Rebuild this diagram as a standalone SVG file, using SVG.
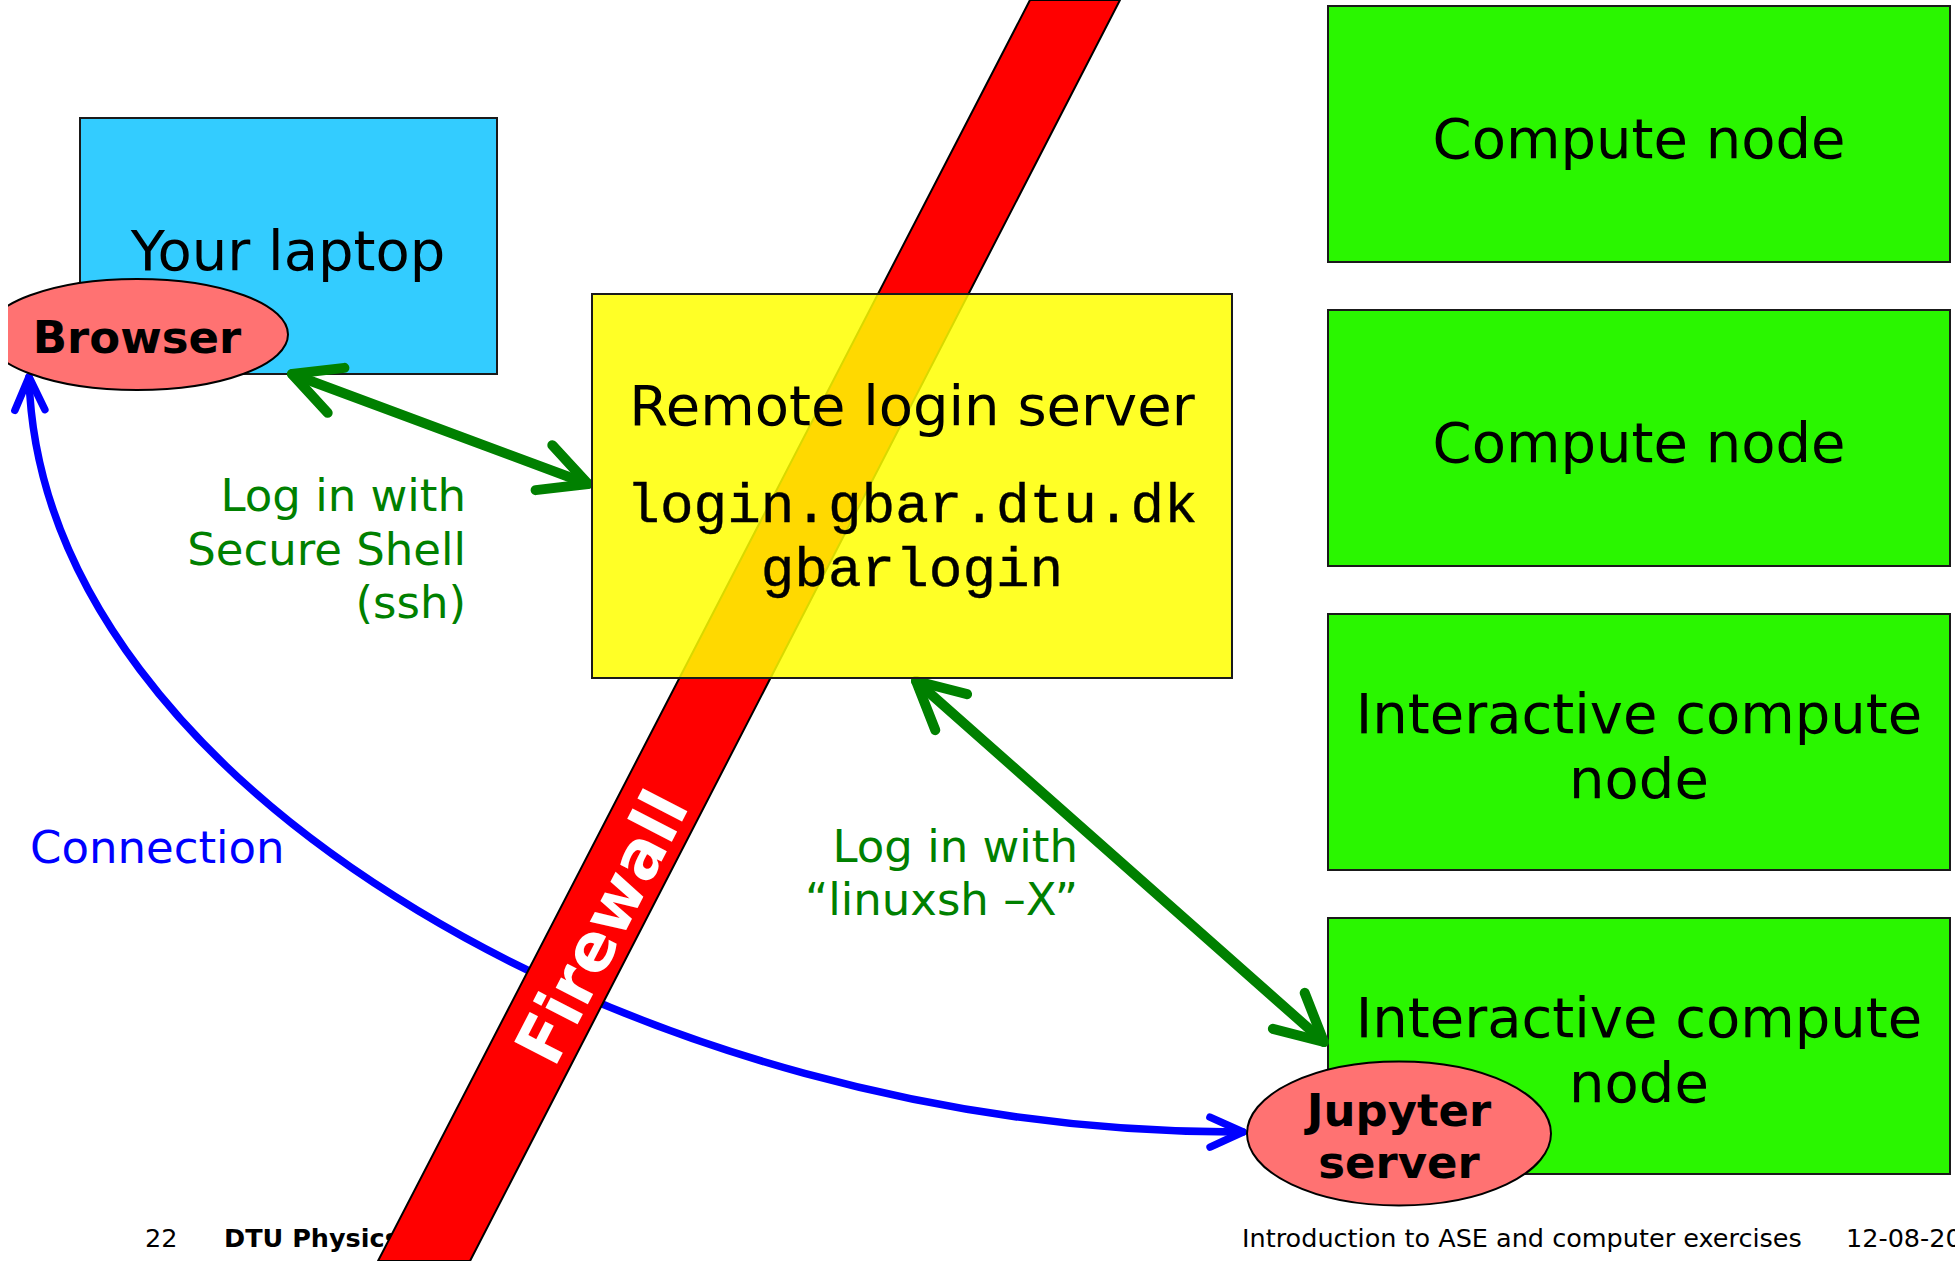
<svg xmlns="http://www.w3.org/2000/svg" width="1955" height="1261" viewBox="0 0 1955 1261">
  <defs>
    <style>
      .sans { font-family: "DejaVu Sans", Verdana, sans-serif; }
      .mono { font-family: "Liberation Mono", "Courier New", monospace; stroke: #000; stroke-width: 0.4; }
      .box { stroke: #1a1a1a; stroke-width: 2; }
      .laptop { fill: #33CCFF; }
      .compute { fill: #2AF600; }
      .server { fill: #FFFF00; fill-opacity: 0.85; }
      .proc { fill: #FF7272; stroke: #000; stroke-width: 2; }
      .t56 { font-size: 56px; }
      .b45 { font-size: 45px; font-weight: bold; }
      .mid { text-anchor: middle; }
      .end { text-anchor: end; }
      .note { font-size: 45px; }
      .green { fill: #008000; }
      .blue { fill: #0000FF; }
      .ssh { stroke: #008000; stroke-width: 10; fill: none; stroke-linecap: round; }
      .conn { stroke: #0000FF; stroke-width: 7.5; fill: none; stroke-linecap: round; }
      .foot { font-size: 25.5px; }
    </style>
    <marker id="chev-green" markerUnits="userSpaceOnUse" orient="auto-start-reverse"
            markerWidth="10" markerHeight="10" refX="0" refY="0" overflow="visible">
      <path d="M-47,-24 L0,0 L-47,24" fill="none" stroke="#008000" stroke-width="10"
            stroke-linecap="round" stroke-linejoin="round"/>
    </marker>
    <marker id="chev-blue" markerUnits="userSpaceOnUse" orient="auto-start-reverse"
            markerWidth="10" markerHeight="10" refX="0" refY="0" overflow="visible">
      <path d="M-33,-15 L0,0 L-33,15" fill="none" stroke="#0000FF" stroke-width="7.5"
            stroke-linecap="round" stroke-linejoin="round"/>
    </marker>
    <clipPath id="page-left">
      <rect x="8" y="0" width="1947" height="1261"/>
    </clipPath>
  </defs>

  <rect width="1955" height="1261" fill="#FFFFFF"/>

  <!-- client machine -->
  <g id="laptop">
    <rect class="box laptop" x="80" y="118" width="417" height="256"/>
    <text class="sans t56 mid" x="288" y="270">Your laptop</text>
  </g>

  <!-- cluster nodes -->
  <g id="compute-node-1">
    <rect class="box compute" x="1328" y="6" width="622" height="256"/>
    <text class="sans t56 mid" x="1639" y="158">Compute node</text>
  </g>
  <g id="compute-node-2">
    <rect class="box compute" x="1328" y="310" width="622" height="256"/>
    <text class="sans t56 mid" x="1639" y="462">Compute node</text>
  </g>
  <g id="interactive-node-1">
    <rect class="box compute" x="1328" y="614" width="622" height="256"/>
    <text class="sans t56 mid" x="1639" y="733">Interactive compute</text>
    <text class="sans t56 mid" x="1639" y="798">node</text>
  </g>
  <g id="interactive-node-2">
    <rect class="box compute" x="1328" y="918" width="622" height="256"/>
    <text class="sans t56 mid" x="1639" y="1037">Interactive compute</text>
    <text class="sans t56 mid" x="1639" y="1102">node</text>
  </g>

  <!-- connections -->
  <g id="connectors">
    <path id="ssh-login" class="ssh" d="M292,374 L588,484"
          marker-start="url(#chev-green)" marker-end="url(#chev-green)"/>
    <path id="linuxsh" class="ssh" d="M916,681 L1324,1042"
          marker-start="url(#chev-green)" marker-end="url(#chev-green)"/>
    <path id="tunnel" class="conn" d="M29,377 C40,790 650,1135 1243,1132"
          marker-start="url(#chev-blue)" marker-end="url(#chev-blue)"/>
  </g>

  <!-- slide footer -->
  <g id="footer" class="sans foot">
    <text x="145" y="1247">22</text>
    <text x="224" y="1247" font-weight="bold">DTU Physics</text>
    <text x="1242" y="1247">Introduction to ASE and computer exercises</text>
    <text x="1846" y="1247">12-08-20</text>
  </g>

  <!-- firewall band -->
  <g id="firewall">
    <polygon points="1030,0 1120,0 470,1261 378,1261" fill="#FF0000" stroke="#000" stroke-width="2"/>
    <text class="sans" transform="translate(599,926) rotate(-62.7)" x="0" y="26"
          text-anchor="middle" font-size="66" font-weight="bold" fill="#FFFFFF">Firewall</text>
  </g>

  <!-- login host -->
  <g id="login-server">
    <rect class="box server" x="592" y="294" width="640" height="384"/>
    <text class="sans t56 mid" x="912" y="425">Remote login server</text>
    <text class="mono t56 mid" x="912" y="522">login.gbar.dtu.dk</text>
    <text class="mono t56 mid" x="912" y="586">gbarlogin</text>
  </g>

  <!-- processes -->
  <g id="browser" clip-path="url(#page-left)">
    <ellipse class="proc" cx="137" cy="334.5" rx="151" ry="55.5"/>
    <text class="sans b45 mid" x="137" y="353">Browser</text>
  </g>
  <g id="jupyter">
    <ellipse class="proc" cx="1399" cy="1133.5" rx="152" ry="72"/>
    <text class="sans b45 mid" x="1399" y="1126">Jupyter</text>
    <text class="sans b45 mid" x="1399" y="1178">server</text>
  </g>

  <!-- connector labels -->
  <g id="labels" class="sans note">
    <text class="green end" x="466" y="511">Log in with</text>
    <text class="green end" x="466" y="565">Secure Shell</text>
    <text class="green end" x="466" y="618">(ssh)</text>
    <text class="green end" x="1078" y="862">Log in with</text>
    <text class="green end" x="1078" y="915">“linuxsh –X”</text>
    <text class="blue" x="30" y="863">Connection</text>
  </g>
</svg>
